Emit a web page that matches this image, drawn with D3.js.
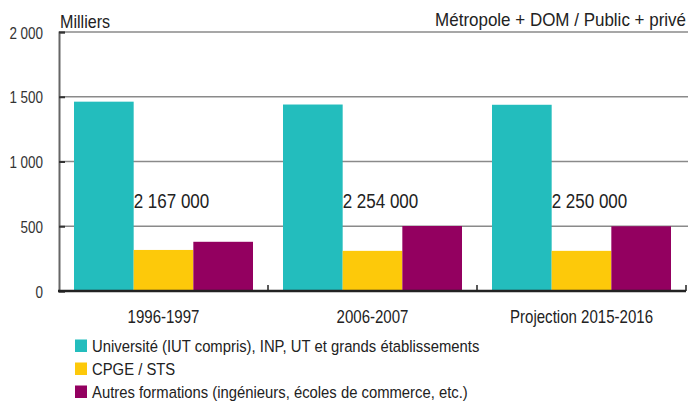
<!DOCTYPE html>
<html>
  <head>
    <meta charset="utf-8">
    <script src="https://cdn.jsdelivr.net/npm/d3@7"></script>
    <style>
        body { margin:0; background:#fff; }
        svg { display:block; }
        text { font-family: "Liberation Sans", Arial, sans-serif; }
    </style>
  </head>
  <body>
    <script type="text/javascript">
        // data (thousands of students)
        var years = ["1996-1997", "2006-2007", "Projection 2015-2016"];
        var series = ["Université (IUT compris), INP, UT et grands établissements",
                      "CPGE / STS",
                      "Autres formations (ingénieurs, écoles de commerce, etc.)"];
        var universite = [1462, 1440, 1438];
        var cpge = [317, 310, 310];
        var autres = [380, 502, 500];
        var totals = ["2 167 000", "2 254 000", "2 250 000"];
        var yTicks = [0, 500, 1000, 1500, 2000];
        var colors = ["#23bdbd", "#fdc90a", "#930060"];

        var width = 688, height = 401;
        var mLeft = 59, mRight = 686, mTop = 32, mBottom = 291;

        // the original uses a condensed face: move x/y into a transform and squeeze horizontally
        function condense(k) {
            return function(sel) {
                sel.each(function() {
                    var t = d3.select(this);
                    var tx = +t.attr("x") || 0, ty = +t.attr("y") || 0;
                    t.attr("x", 0).attr("y", 0)
                     .attr("transform", "translate(" + tx + "," + ty + ") scale(" + k + ",1)");
                });
            };
        }

        var svg = d3.select("body").append("svg")
            .attr("width", width)
            .attr("height", height);

        var x = d3.scaleBand()
            .domain(years)
            .range([mLeft, mRight]);

        var xs = d3.scaleBand()
            .domain([0, 1, 2])
            .range([15, x.bandwidth() - 15]);

        var y = d3.scaleLinear()
            .domain([0, 2000])
            .range([mBottom, mTop]);

        // gridlines
        svg.append("g")
            .selectAll("line")
            .data(yTicks.slice(1))
            .enter().append("line")
              .attr("x1", mLeft)
              .attr("x2", width)
              .attr("y1", function(d) { return y(d); })
              .attr("y2", function(d) { return y(d); })
              .attr("stroke", "#8a8a8a")
              .attr("stroke-width", 1.5);

        // y axis
        var yAxis = svg.append("g")
            .attr("transform", "translate(" + mLeft + ",0)")
            .call(d3.axisRight(y)
                .tickValues(yTicks)
                .tickSize(6)
                .tickFormat(function(d) { return d3.format(",")(d).replace(",", " "); }));
        yAxis.select(".domain")
            .attr("stroke", "#666")
            .attr("stroke-width", 2);
        yAxis.selectAll(".tick line")
            .attr("stroke", "#333")
            .attr("stroke-width", 2);
        yAxis.selectAll(".tick text")
            .attr("x", -16)
            .attr("y", 6)
            .attr("dy", null)
            .attr("text-anchor", "end")
            .attr("fill", "#333")
            .style("font-size", "16.8px")
            .call(condense(0.8));

        // bars
        var data = years.map(function(yr, i) {
            return { year: yr, values: [universite[i], cpge[i], autres[i]], total: totals[i] };
        });

        var groups = svg.selectAll(".grp")
            .data(data)
            .enter().append("g")
              .attr("class", "grp")
              .attr("transform", function(d) { return "translate(" + x(d.year) + ",0)"; });

        groups.selectAll("rect")
            .data(function(d) { return d.values; })
            .enter().append("rect")
              .attr("x", function(d, i) { return xs(i); })
              .attr("width", xs.bandwidth())
              .attr("y", function(d) { return y(d); })
              .attr("height", function(d) { return y(0) - y(d); })
              .attr("fill", function(d, i) { return colors[i]; });

        groups.append("text")
            .attr("x", xs(1))
            .attr("y", 208)
            .attr("fill", "#222")
            .style("font-size", "21px")
            .text(function(d) { return d.total; })
            .call(condense(0.81));

        // x axis
        var xAxis = svg.append("g")
            .attr("transform", "translate(0," + mBottom + ")");
        xAxis.append("line")
            .attr("x1", mLeft - 1)
            .attr("x2", mRight)
            .attr("stroke", "#222")
            .attr("stroke-width", 2.5);
        xAxis.selectAll(".sep")
            .data(years)
            .enter().append("line")
              .attr("class", "sep")
              .attr("x1", function(d) { return x(d) + x.bandwidth(); })
              .attr("x2", function(d) { return x(d) + x.bandwidth(); })
              .attr("y1", 0)
              .attr("y2", -6)
              .attr("stroke", "#222")
              .attr("stroke-width", 1.5);

        svg.selectAll(".cat")
            .data(years)
            .enter().append("text")
              .attr("class", "cat")
              .attr("x", function(d) { return x(d) + x.bandwidth() / 2; })
              .attr("y", 323)
              .attr("text-anchor", "middle")
              .attr("fill", "#222")
              .style("font-size", "17.5px")
              .text(function(d) { return d; })
              .call(condense(0.86));

        // titles
        svg.append("text")
            .attr("x", 60)
            .attr("y", 28)
            .attr("fill", "#222")
            .style("font-size", "17.7px")
            .text("Milliers")
            .call(condense(0.91));
        svg.append("text")
            .attr("x", 686)
            .attr("y", 26)
            .attr("text-anchor", "end")
            .attr("fill", "#222")
            .style("font-size", "17.7px")
            .text("Métropole + DOM / Public + privé")
            .call(condense(0.96));

        // legend
        var legend = svg.selectAll(".leg")
            .data(series)
            .enter().append("g")
              .attr("class", "leg")
              .attr("transform", function(d, i) { return "translate(75," + (339.5 + i * 23) + ")"; });
        legend.append("rect")
            .attr("width", 12)
            .attr("height", 12.5)
            .attr("fill", function(d, i) { return colors[i]; });
        legend.append("text")
            .attr("x", 17)
            .attr("y", 12.5)
            .attr("fill", "#222")
            .style("font-size", "16.3px")
            .text(function(d) { return d; })
            .call(condense(0.91));
    </script>
  </body>
</html>
